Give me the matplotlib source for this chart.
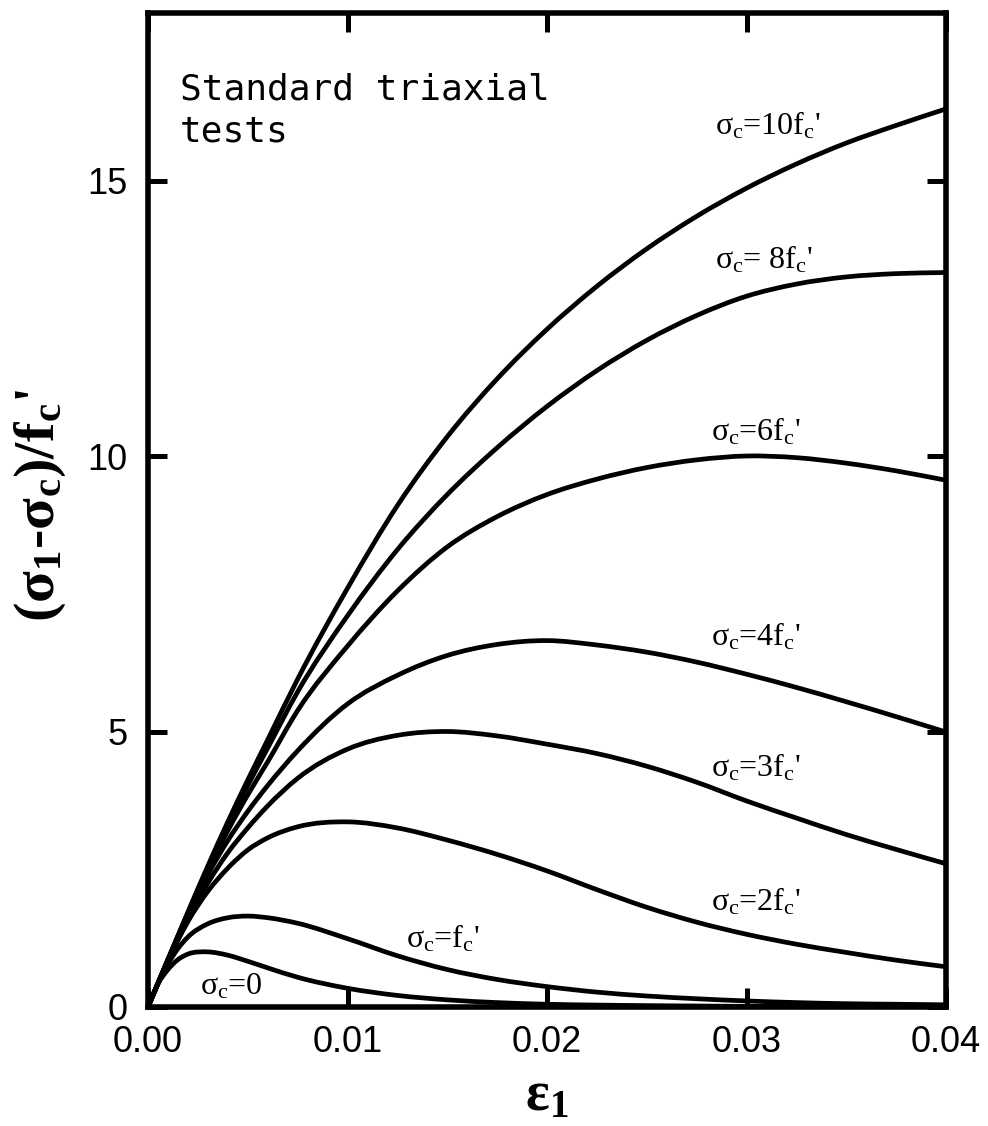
import matplotlib
matplotlib.use('Agg')
import matplotlib.pyplot as plt
from matplotlib.path import Path
from matplotlib.patches import PathPatch

# ---- data ----
strain = [0, 0.0005, 0.001, 0.0015, 0.002, 0.003, 0.004, 0.005, 0.006, 0.0075,
          0.01, 0.0125, 0.015, 0.0175, 0.02, 0.0225, 0.025, 0.0275, 0.03,
          0.0325, 0.035, 0.0375, 0.04]

s_0 = [0, 0.42, 0.68, 0.86, 0.96, 1.0, 0.94, 0.83, 0.71, 0.54,
       0.34, 0.21, 0.13, 0.08, 0.05, 0.035, 0.025, 0.018, 0.012,
       0.008, 0.005, 0.003, 0.002]
s_1 = [0, 0.43, 0.78, 1.06, 1.27, 1.51, 1.62, 1.65, 1.62, 1.52,
       1.24, 0.93, 0.68, 0.5, 0.37, 0.27, 0.2, 0.15, 0.11,
       0.08, 0.06, 0.05, 0.04]
s_2 = [0, 0.43, 0.84, 1.21, 1.55, 2.1, 2.52, 2.85, 3.07, 3.27,
       3.36, 3.25, 3.03, 2.77, 2.47, 2.13, 1.81, 1.54, 1.32,
       1.14, 0.99, 0.85, 0.73]
s_3 = [0, 0.43, 0.85, 1.24, 1.6, 2.25, 2.8, 3.25, 3.65, 4.15,
       4.68, 4.93, 5.0, 4.92, 4.77, 4.6, 4.37, 4.08, 3.74,
       3.43, 3.13, 2.86, 2.6]
s_4 = [0, 0.43, 0.85, 1.26, 1.65, 2.4, 3.02, 3.55, 4.02, 4.65,
       5.5, 6.02, 6.38, 6.58, 6.65, 6.57, 6.44, 6.26, 6.04,
       5.8, 5.54, 5.27, 4.99]
s_6 = [0, 0.43, 0.86, 1.28, 1.69, 2.48, 3.2, 3.85, 4.45, 5.38,
       6.55, 7.55, 8.35, 8.9, 9.3, 9.58, 9.79, 9.93, 10.0,
       9.97, 9.87, 9.73, 9.56]
s_8 = [0, 0.43, 0.86, 1.29, 1.71, 2.53, 3.3, 4.02, 4.7, 5.72,
       7.1, 8.3, 9.3, 10.15, 10.9, 11.55, 12.1, 12.55, 12.9,
       13.12, 13.25, 13.31, 13.33]
s_10 = [0, 0.43, 0.86, 1.29, 1.72, 2.56, 3.36, 4.12, 4.85, 5.95,
        7.6, 9.1, 10.35, 11.4, 12.3, 13.08, 13.76, 14.35, 14.86,
        15.3, 15.68, 16.0, 16.3]

series = [s_0, s_1, s_2, s_3, s_4, s_6, s_8, s_10]
curve_labels = [r"$\sigma_c$=0", r"$\sigma_c$=f$_c$'", r"$\sigma_c$=2f$_c$'",
                r"$\sigma_c$=3f$_c$'", r"$\sigma_c$=4f$_c$'", r"$\sigma_c$=6f$_c$'",
                r"$\sigma_c$= 8f$_c$'", r"$\sigma_c$=10f$_c$'"]
x_ticks = [0.00, 0.01, 0.02, 0.03, 0.04]
x_ticklabels = ["0.00", "0.01", "0.02", "0.03", "0.04"]
y_ticks = [0, 5, 10, 15]
y_ticklabels = ["0", "5", "10", "15"]

# label anchor positions (data coords)
label_pos = [(0.0042, 0.36), (0.0148, 1.24), (0.0305, 1.91), (0.0305, 4.34),
             (0.0305, 6.72), (0.0305, 10.44), (0.0309, 13.56), (0.0311, 16.0)]

plt.rcParams['mathtext.fontset'] = 'custom'
plt.rcParams['mathtext.rm'] = 'Liberation Serif'
plt.rcParams['mathtext.it'] = 'Liberation Serif'
plt.rcParams['mathtext.bf'] = 'Liberation Serif:bold'


def smooth_path(xs, ys):
    """Piecewise cubic Hermite through the read points, drawn as Bezier segments."""
    n = len(xs)
    h = [xs[i + 1] - xs[i] for i in range(n - 1)]
    d = [(ys[i + 1] - ys[i]) / h[i] for i in range(n - 1)]
    m = [0.0] * n
    m[0] = d[0]
    m[-1] = d[-1]
    for i in range(1, n - 1):
        m[i] = (d[i - 1] * h[i] + d[i] * h[i - 1]) / (h[i - 1] + h[i])
    verts = [(xs[0], ys[0])]
    codes = [Path.MOVETO]
    for i in range(n - 1):
        verts += [(xs[i] + h[i] / 3, ys[i] + m[i] * h[i] / 3),
                  (xs[i + 1] - h[i] / 3, ys[i + 1] - m[i + 1] * h[i] / 3),
                  (xs[i + 1], ys[i + 1])]
        codes += [Path.CURVE4] * 3
    return Path(verts, codes)


fig = plt.figure(figsize=(9.88, 11.26), dpi=100)
ax = fig.add_axes([148/988, 1 - 1007/1126, 798/988, 994/1126])

for ys in series:
    ax.add_patch(PathPatch(smooth_path(strain, ys), fill=False,
                           edgecolor='black', lw=3.4, capstyle='round',
                           joinstyle='round'))

ax.set_xlim(0, 0.04)
ax.set_ylim(0, 18.04)
ax.set_xticks(x_ticks)
ax.set_xticklabels(x_ticklabels)
ax.set_yticks(y_ticks)
ax.set_yticklabels(y_ticklabels)

for sp in ax.spines.values():
    sp.set_linewidth(4.0)
    sp.set_capstyle('projecting')
ax.tick_params(direction='in', length=14, width=3.6, top=True, right=True,
               labelsize=26, pad=13)
ax.tick_params(axis='y', pad=15)
for lab in ax.get_xticklabels() + ax.get_yticklabels():
    lab.set_family('Liberation Sans')

for txt, (px, py) in zip(curve_labels, label_pos):
    ax.text(px, py, txt, fontsize=23, family='Liberation Serif',
            ha='center', va='center')

ax.text(0.04, 0.94, "Standard triaxial\ntests", transform=ax.transAxes,
        fontsize=26, family='DejaVu Sans Mono', ha='left', va='top',
        linespacing=1.3)

ax.set_xlabel(r"$\mathbf{\varepsilon_1}$", fontsize=40, labelpad=6)
ax.set_ylabel(r"$\mathbf{(\sigma_1}$-$\mathbf{\sigma_c)/f_c}$'", fontsize=42,
              fontweight='bold', family='Liberation Serif', va='center')
ax.yaxis.set_label_coords(-0.135, 0.505)

fig.savefig('out.png', dpi=100)
